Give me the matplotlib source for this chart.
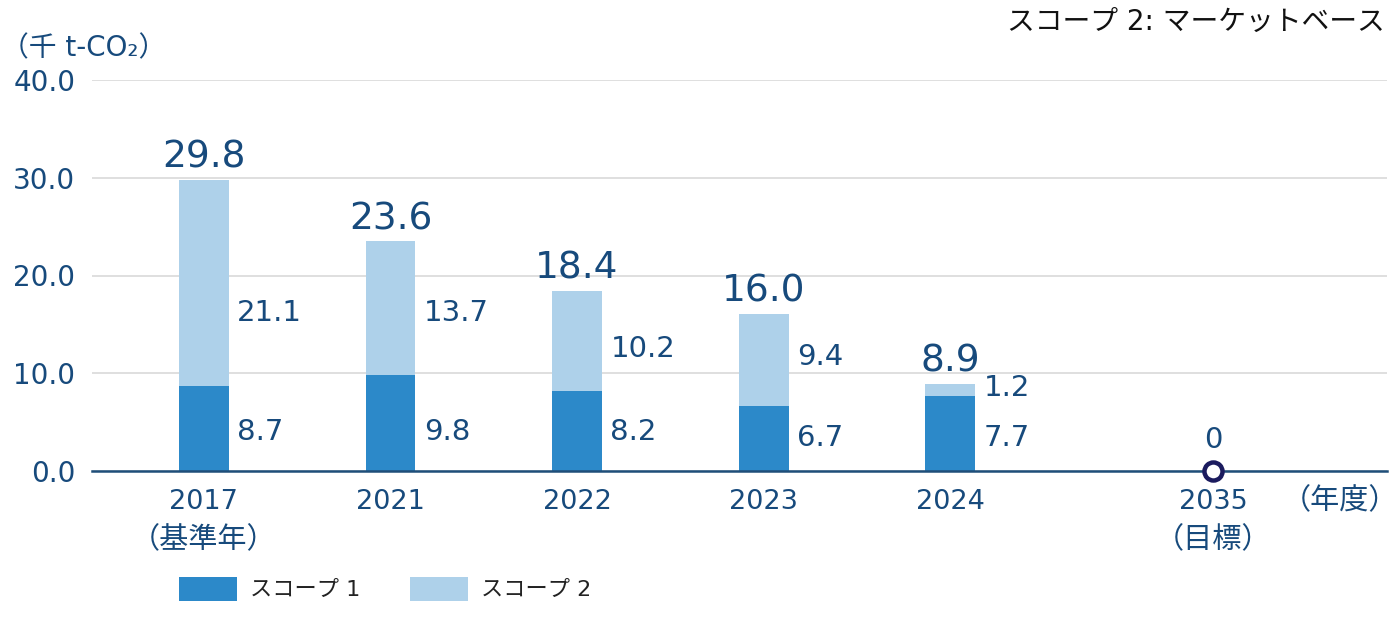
import matplotlib
matplotlib.use("Agg")
import matplotlib.pyplot as plt
from matplotlib.transforms import blended_transform_factory

plt.rcParams['font.family'] = ['DejaVu Sans', 'Noto Sans CJK JP']

# ---- data ----
years = ["2017", "2021", "2022", "2023", "2024"]
year_notes = ["（基準年）", "", "", "", ""]
scope1 = [8.7, 9.8, 8.2, 6.7, 7.7]
scope2 = [21.1, 13.7, 10.2, 9.4, 1.2]
totals = [29.8, 23.6, 18.4, 16.0, 8.9]
target_year = "2035"
target_note = "（目標）"
target_value = 0

# ---- layout (not data) ----
positions = [0, 1, 2, 3, 4]
target_pos = 5.41
s1_label_y = [4.0, 4.0, 4.0, 3.4, 3.4]
s2_label_y = [16.2, 16.2, 12.5, 11.7, 8.5]

C1 = "#2c89c9"
C2 = "#aed1ea"
NAVY = "#174a7c"

fig = plt.figure(figsize=(14, 6.35), dpi=100)
ax = fig.add_axes([92/1400, 1-471/635, (1387-92)/1400, (471-80)/635])

w = 0.268
b1 = ax.bar(positions, scope1, width=w, color=C1, label="スコープ 1", zorder=3)
b2 = ax.bar(positions, scope2, width=w, bottom=scope1, color=C2, label="スコープ 2", zorder=3)

for x, v1, v2, t, y1, y2 in zip(positions, scope1, scope2, totals, s1_label_y, s2_label_y):
    ax.annotate(f"{v1:.1f}", (x + w/2, y1), xytext=(6, 0), textcoords="offset points",
                ha="left", va="center", fontsize=21, color=NAVY)
    ax.annotate(f"{v2:.1f}", (x + w/2, y2), xytext=(6, 0), textcoords="offset points",
                ha="left", va="center", fontsize=21, color=NAVY)
    ax.annotate(f"{t:.1f}", (x, v1 + v2), xytext=(0, 3), textcoords="offset points",
                ha="center", va="bottom", fontsize=27, color=NAVY)

ax.plot([target_pos], [target_value], marker="o", ms=13, mew=3.2,
        mfc="white", mec="#1b1b5e", zorder=5, clip_on=False)
ax.annotate(f"{target_value}", (target_pos, target_value), xytext=(0, 12),
            textcoords="offset points", ha="center", va="bottom", fontsize=21, color=NAVY)

ax.set_xlim(-0.6005, 6.343)
ax.set_ylim(0, 40)
ax.set_yticks([0, 10, 20, 30, 40])
ax.set_yticklabels([f"{v:.1f}" for v in [0, 10, 20, 30, 40]])
xt = positions + [target_pos]
ax.set_xticks(xt)
ax.set_xticklabels(years + [target_year])
ax.tick_params(axis="both", length=0, labelcolor=NAVY)
ax.tick_params(axis="y", pad=12, labelsize=20)
ax.tick_params(axis="x", pad=13, labelsize=19.5)

trans = blended_transform_factory(ax.transData, ax.transAxes)
for x, n in zip(xt, year_notes + [target_note]):
    if n:
        ax.annotate(n, (x, 0), xycoords=trans, xytext=(0, -50), textcoords="offset points",
                    ha="center", va="center", fontsize=21, color=NAVY)

ax.grid(axis="y", color="#d6d6d6", lw=1.1, zorder=0)
for s in ["top", "right", "left"]:
    ax.spines[s].set_visible(False)
ax.spines["bottom"].set_color("#1f4e79")
ax.spines["bottom"].set_linewidth(1.8)
ax.spines["bottom"].set_zorder(4)

ax.annotate("（年度）", (6.09, 0), xycoords=trans, xytext=(0, -22), textcoords="offset points",
            ha="center", va="center", fontsize=21, color=NAVY)

fig.text(1/1400, 1-48/635, "（千 t-CO₂）", ha="left", va="center", fontsize=20, color=NAVY)
fig.text(1385/1400, 1-22/635, "スコープ 2: マーケットベース", ha="right", va="center",
         fontsize=20, color="#111111")

fig.legend(handles=[b1, b2], loc="center left", bbox_to_anchor=(159/1400, 1-589/635),
           ncol=2, frameon=False, fontsize=16, handlelength=2.6, handleheight=1.3,
           handletextpad=0.6, columnspacing=2.25, labelcolor="#222222")

fig.savefig("out.png", dpi=100)
